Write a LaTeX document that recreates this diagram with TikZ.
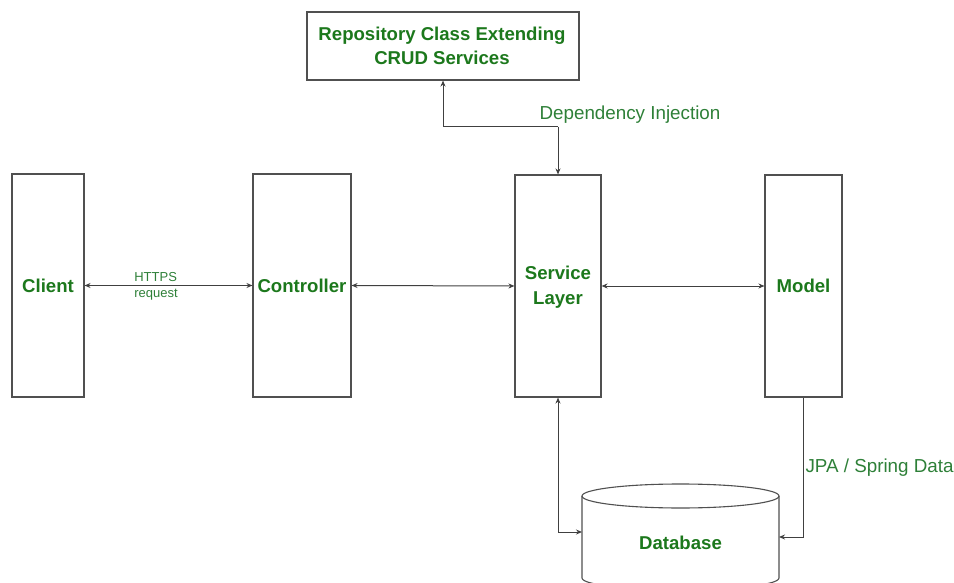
\documentclass[tikz,border=0pt]{standalone}
\usepackage{fontspec}
\setmainfont{Liberation Sans}
\usetikzlibrary{arrows.meta}
\definecolor{nodegreen}{RGB}{28,120,28}
\definecolor{labelgreen}{RGB}{46,128,56}
\definecolor{edge}{RGB}{80,80,80}
\tikzset{
  block/.style={draw=edge, line width=1.1pt, fill=white, inner sep=0pt},
  blocktext/.style={text=nodegreen, font=\fontsize{18.6}{24.5}\selectfont\bfseries, align=center},
  flowlabel/.style={text=labelgreen, font=\fontsize{18.8}{22}\selectfont},
  smalllabel/.style={text=labelgreen, font=\fontsize{13}{16}\selectfont, align=left},
  link/.style={draw=black!75, line width=1pt},
  tip/.style={-{Stealth[length=6pt,width=5pt]}},
  bitip/.style={{Stealth[length=6pt,width=5pt]}-{Stealth[length=6pt,width=5pt]}}
}
\begin{document}
\begin{tikzpicture}[x=1pt, y=-1pt]
\useasboundingbox (0,0) rectangle (954,583);
\clip (0,0) rectangle (954,583);

% repository box
\node[block, minimum width=272pt, minimum height=68pt] (repo) at (443,46) {};
\node[blocktext] (repotext) at (442,46) {Repository Class Extending\\CRUD Services};

% vertical layer boxes
\node[block, minimum width=72pt, minimum height=223pt] (client) at (48,285.5) {};
\node[blocktext] (clienttext) at (48,286) {Client};
\node[block, minimum width=98pt, minimum height=223pt] (ctrl) at (302,285.5) {};
\node[blocktext] (ctrltext) at (302,286) {Controller};
\node[block, minimum width=86pt, minimum height=222pt] (svc) at (558,286) {};
\node[blocktext] (svctext) at (558,287) {Service\\Layer};
\node[block, minimum width=77pt, minimum height=222pt] (model) at (803.5,286) {};
\node[blocktext] (modeltext) at (803.5,286) {Model};

% database cylinder
\coordinate (dbtl) at (582,496);
\coordinate (dbtr) at (779,496);
\coordinate (dbbl) at (582,578);
\coordinate (dbbr) at (779,578);
\draw[edge, line width=1.1pt, fill=white]
  (dbtl) -- (dbbl) arc[start angle=180, end angle=360, x radius=98.5pt, y radius=12pt]
  -- (dbtr) arc[start angle=0, end angle=180, x radius=98.5pt, y radius=12pt];
\draw[edge, line width=1.1pt] (dbtl) arc[start angle=180, end angle=360, x radius=98.5pt, y radius=12pt];
\node[blocktext] (db) at (680.5,543) {Database};
\coordinate (dbin1) at (582,532);
\coordinate (dbin2) at (779,537);

% connectors
\coordinate (diknee) at (558,127);
\draw[link, tip] (diknee) -- (svc.north);
\draw[link, tip] (diknee) -| (repo.south);
\draw[link, bitip] (client.east) -- (ctrl.west);
\draw[link, bitip] (ctrl.east) -- (svc.west);
\draw[link, bitip] (svc.east) -- (model.west);
\draw[link, bitip] (svc.south) |- (dbin1);
\draw[link, tip] (model.south) |- (dbin2);

% connector labels
\node[flowlabel] (dilabel) at (630,115) {Dependency Injection};
\node[smalllabel] (httplabel) at (156,286) {HTTPS\\request};
\node[flowlabel, anchor=west] (jpalabel) at (802,468) {JPA / Spring Data};
\end{tikzpicture}
\end{document}
